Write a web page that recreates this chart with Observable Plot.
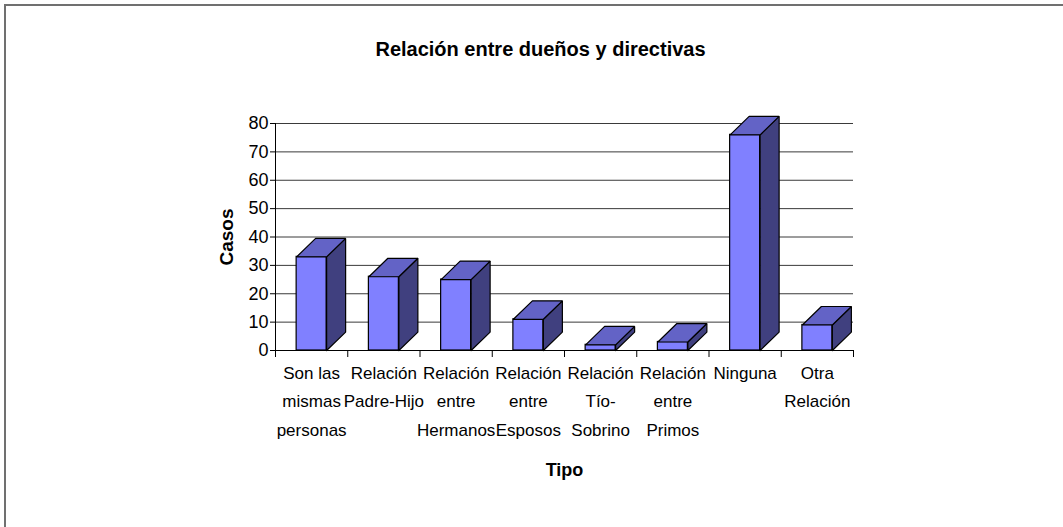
<!DOCTYPE html>
<html>
<head>
<meta charset="utf-8">
<script src="https://cdn.jsdelivr.net/npm/d3@7"></script>
<script src="https://cdn.jsdelivr.net/npm/@observablehq/plot@0.6"></script>
<style>
  html, body { margin: 0; padding: 0; background: #fff; }
  #wrap { position: relative; width: 1063px; height: 527px; overflow: hidden; font-family: "Liberation Sans", Arial, sans-serif; }
  #bt { position: absolute; left: 4px; top: 4px; width: 1059px; height: 2px; background: #707070; }
  #bl { position: absolute; left: 4px; top: 4px; width: 2px; height: 523px; background: #707070; }
  #chart { position: absolute; left: 0; top: 0; }
</style>
</head>
<body>
<div id="wrap"><div id="chart"></div><div id="bt"></div><div id="bl"></div></div>
<script>
const categories = [
  "Son las\nmismas\npersonas",
  "Relación\nPadre-Hijo",
  "Relación\nentre\nHermanos",
  "Relación\nentre\nEsposos",
  "Relación\nTío-\nSobrino",
  "Relación\nentre\nPrimos",
  "Ninguna",
  "Otra\nRelación"
];
const casos = [33, 26, 25, 11, 2, 3, 76, 9];
const yTicks = [0, 10, 20, 30, 40, 50, 60, 70, 80];
const titleText = "Relación entre dueños y directivas";
const yTitle = "Casos";
const xTitle = "Tipo";

// geometry (in scale units): front face half width, depth offsets
const half = 0.2075;
const depthX = 0.263;
const depthY = 6.5;

const bars = categories.map((c, i) => ({i, c, v: casos[i], x1: i + 0.5 - half, x2: i + 0.5 + half}));
const sides = [], tops = [];
bars.forEach(b => {
  [[b.x2, 0], [b.x2 + depthX, depthY], [b.x2 + depthX, b.v + depthY], [b.x2, b.v], [b.x2, 0]]
    .forEach(([x, y]) => sides.push({k: b.i, x, y}));
  [[b.x1, b.v], [b.x1 + depthX, b.v + depthY], [b.x2 + depthX, b.v + depthY], [b.x2, b.v], [b.x1, b.v]]
    .forEach(([x, y]) => tops.push({k: b.i, x, y}));
});

const W = 1063, H = 527;
const font = "Liberation Sans, Arial, sans-serif";

const plot = Plot.plot({
  width: W,
  height: H,
  marginLeft: 275,
  marginRight: W - 853,
  marginTop: 123,
  marginBottom: H - 350,
  style: {fontFamily: font, background: "transparent", color: "#000"},
  x: {type: "linear", domain: [0, categories.length]},
  y: {domain: [0, 80]},
  marks: [
    Plot.ruleY(yTicks.filter(d => d > 0), {x1: 0, x2: categories.length, stroke: "#3a3a3a", strokeWidth: 1}),
    Plot.rect(bars, {x1: "x1", x2: "x2", y1: 0, y2: "v", fill: "#8080ff", stroke: "#000", strokeWidth: 1.2}),
    Plot.line(sides, {x: "x", y: "y", z: "k", fill: "#40407f", stroke: "#000", strokeWidth: 1.2, strokeLinejoin: "miter", curve: "linear"}),
    Plot.line(tops, {x: "x", y: "y", z: "k", fill: "#6363c6", stroke: "#000", strokeWidth: 1.2, strokeLinejoin: "miter", curve: "linear"}),
    Plot.ruleY([0], {x1: 0, x2: categories.length, stroke: "#000"}),
    Plot.ruleX([0], {y1: 0, y2: 80, stroke: "#000"}),
    Plot.axisY({ticks: yTicks, tickSize: 5, tickPadding: 2, fontSize: 18, tickFormat: d => String(d), label: null}),
    Plot.axisX({ticks: d3.range(categories.length + 1), tickSize: 7, tickFormat: () => "", label: null}),
    Plot.axisX({ticks: d3.range(categories.length).map(i => i + 0.5), tickSize: 0, tickPadding: 9,
      tickFormat: d => categories[Math.floor(d)], fontSize: 17, lineHeight: 1.65, lineAnchor: "top", label: null,
      style: {letterSpacing: "-0.4px"}}),
    Plot.text([yTitle], {frameAnchor: "left", dx: -49, rotate: -90, textAnchor: "middle", lineAnchor: "middle", fontSize: 19, fontWeight: "bold", text: d => d}),
    Plot.text([xTitle], {frameAnchor: "bottom", dy: 120, lineAnchor: "middle", fontSize: 18, fontWeight: "bold", text: d => d}),
    Plot.text([titleText], {frameAnchor: "top", dy: -74, dx: -24, lineAnchor: "middle", fontSize: 20, fontWeight: "bold", text: d => d})
  ]
});
document.getElementById("chart").appendChild(plot);
</script>
</body>
</html>
